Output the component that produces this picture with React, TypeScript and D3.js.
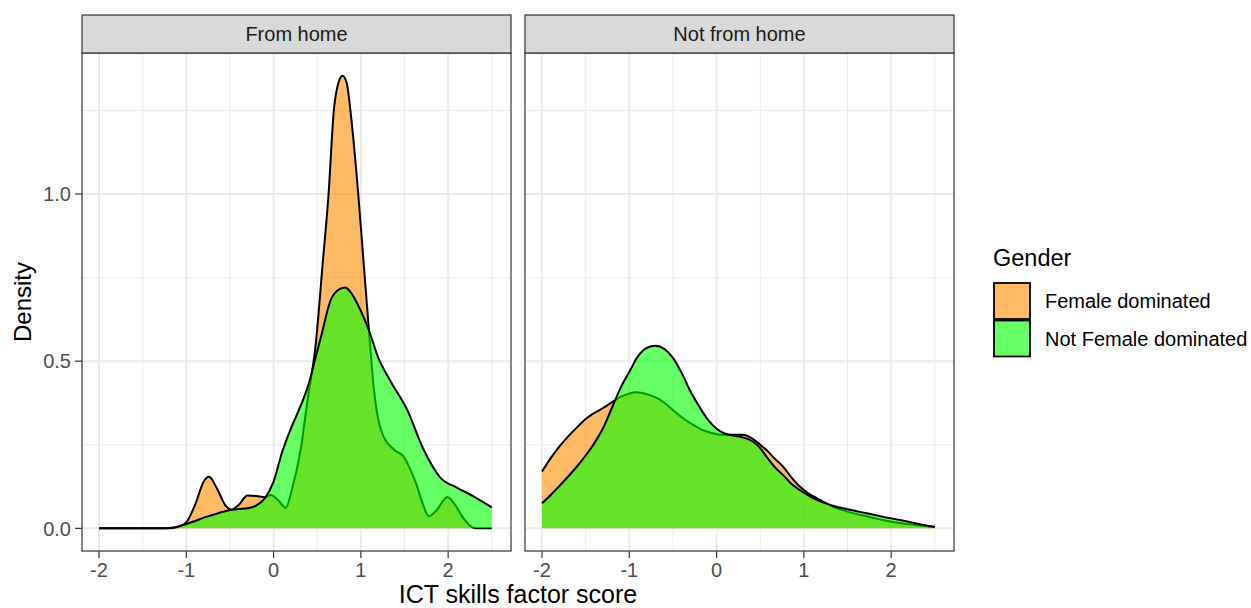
import React from 'react';
import * as d3 from 'd3';

// density estimates: [score, density]
const homeFemale: [number, number][] = [
  [-2, 0], [-1.5, 0], [-1.2, 0], [-1.1, 0.004], [-1.0, 0.018], [-0.9, 0.07], [-0.8, 0.14],
  [-0.74, 0.154], [-0.65, 0.12], [-0.55, 0.068], [-0.48, 0.056], [-0.4, 0.07], [-0.3, 0.098],
  [-0.2, 0.097], [-0.1, 0.093], [-0.03, 0.1], [0.05, 0.085], [0.14, 0.062], [0.21, 0.116],
  [0.31, 0.235], [0.39, 0.385], [0.48, 0.544], [0.565, 0.8], [0.63, 1.0], [0.69, 1.25],
  [0.74, 1.33], [0.79, 1.354], [0.84, 1.33], [0.88, 1.25], [0.97, 1.0], [1.03, 0.8],
  [1.09, 0.6], [1.15, 0.415], [1.23, 0.295], [1.38, 0.235], [1.49, 0.215], [1.56, 0.18],
  [1.63, 0.136], [1.7, 0.08], [1.78, 0.036], [1.87, 0.055], [1.99, 0.094], [2.08, 0.07],
  [2.16, 0.036], [2.29, 0.002], [2.35, 0], [2.5, 0],
];

const homeOther: [number, number][] = [
  [-2, 0], [-1.3, 0], [-1.2, 0.001], [-1.1, 0.005], [-1.0, 0.013], [-0.9, 0.022], [-0.8, 0.032],
  [-0.7, 0.04], [-0.6, 0.048], [-0.5, 0.055], [-0.4, 0.058], [-0.3, 0.06], [-0.2, 0.068],
  [-0.1, 0.09], [0, 0.14], [0.1, 0.23], [0.2, 0.3], [0.3, 0.36], [0.4, 0.43], [0.47, 0.5],
  [0.55, 0.58], [0.65, 0.68], [0.75, 0.715], [0.82, 0.72], [0.9, 0.7], [1.0, 0.65],
  [1.09, 0.594], [1.2, 0.51], [1.34, 0.44], [1.53, 0.355], [1.72, 0.235], [1.91, 0.152],
  [2.1, 0.122], [2.29, 0.096], [2.5, 0.063],
];

const awayFemale: [number, number][] = [
  [-2, 0.17], [-1.9, 0.21], [-1.8, 0.245], [-1.7, 0.275], [-1.6, 0.302], [-1.5, 0.327],
  [-1.4, 0.345], [-1.3, 0.36], [-1.2, 0.377], [-1.1, 0.393], [-1.0, 0.403], [-0.93, 0.407],
  [-0.85, 0.405], [-0.78, 0.4], [-0.65, 0.385], [-0.55, 0.365], [-0.45, 0.343], [-0.36, 0.325],
  [-0.25, 0.307], [-0.17, 0.295], [-0.05, 0.285], [0.05, 0.28], [0.15, 0.28], [0.3, 0.28],
  [0.4, 0.27], [0.5, 0.25], [0.57, 0.235], [0.66, 0.21], [0.76, 0.185], [0.85, 0.155],
  [0.95, 0.126], [1.05, 0.105], [1.15, 0.09], [1.34, 0.064], [1.5, 0.05], [1.72, 0.036],
  [1.9, 0.025], [2.1, 0.016], [2.3, 0.009], [2.5, 0.004],
];

const awayOther: [number, number][] = [
  [-2, 0.075], [-1.9, 0.1], [-1.8, 0.127], [-1.7, 0.155], [-1.6, 0.185], [-1.5, 0.218],
  [-1.4, 0.255], [-1.3, 0.3], [-1.2, 0.36], [-1.1, 0.42], [-1.0, 0.468], [-0.9, 0.515],
  [-0.8, 0.54], [-0.7, 0.546], [-0.6, 0.537], [-0.5, 0.51], [-0.4, 0.465], [-0.3, 0.41],
  [-0.2, 0.365], [-0.1, 0.325], [0, 0.298], [0.1, 0.283], [0.2, 0.277], [0.3, 0.272],
  [0.4, 0.262], [0.5, 0.24], [0.57, 0.215], [0.66, 0.185], [0.76, 0.16], [0.85, 0.135],
  [0.95, 0.115], [1.05, 0.099], [1.15, 0.085], [1.34, 0.067], [1.5, 0.057], [1.72, 0.045],
  [1.9, 0.035], [2.1, 0.025], [2.3, 0.014], [2.5, 0.004],
];

const panels = ['From home', 'Not from home'];
const groups = ['Female dominated', 'Not Female dominated'];
const groupColors = ['#ff8c00', '#00ff00'];
const xTicks = [-2, -1, 0, 1, 2];
const xMinor = [-1.5, -0.5, 0.5, 1.5, 2.5];
const yTicks = [0, 0.5, 1.0];
const yMinor = [0.25, 0.75, 1.25];

const width = 1251;
const height = 608;
const font = '"Liberation Sans", Arial, sans-serif';

export default function App() {
  const y = d3.scaleLinear().domain([-0.0677, 1.4217]).range([551, 53]);
  const panelX = [
    d3.scaleLinear().domain([-2.195, 2.72]).range([82, 511]),
    d3.scaleLinear().domain([-2.195, 2.72]).range([525, 954]),
  ];
  const series = [
    [homeFemale, homeOther],
    [awayFemale, awayOther],
  ];
  const top = 15;
  const stripBottom = 53;
  const bottom = 551;

  return (
    <svg width={width} height={height} style={{ position: 'absolute', left: 0, top: 0, background: '#fff' }}>
      {panels.map((name, p) => {
        const x = panelX[p];
        const [x0, x1] = x.range();
        const area = d3.area<[number, number]>()
          .x(d => x(d[0])).y0(y(0)).y1(d => y(d[1]))
          .curve(d3.curveMonotoneX);
        const line = d3.line<[number, number]>()
          .x(d => x(d[0])).y(d => y(d[1]))
          .curve(d3.curveMonotoneX);
        return (
          <g key={name}>
            {/* grid */}
            {yMinor.map(v => (
              <line key={'ym' + v} x1={x0} x2={x1} y1={y(v)} y2={y(v)} stroke="#ebebeb" strokeWidth={1} />
            ))}
            {xMinor.map(v => (
              <line key={'xm' + v} x1={x(v)} x2={x(v)} y1={stripBottom} y2={bottom} stroke="#ebebeb" strokeWidth={1} />
            ))}
            {yTicks.map(v => (
              <line key={'y' + v} x1={x0} x2={x1} y1={y(v)} y2={y(v)} stroke="#ebebeb" strokeWidth={2} />
            ))}
            {xTicks.map(v => (
              <line key={'x' + v} x1={x(v)} x2={x(v)} y1={stripBottom} y2={bottom} stroke="#ebebeb" strokeWidth={2} />
            ))}
            {/* densities */}
            {series[p].map((s, i) => (
              <g key={i}>
                <path d={area(s) ?? ''} fill={groupColors[i]} fillOpacity={0.6} />
                <path d={line(s) ?? ''} fill="none" stroke="#000" strokeWidth={2} />
              </g>
            ))}
            <rect x={x0} y={stripBottom} width={x1 - x0} height={bottom - stripBottom} fill="none" stroke="#333" strokeWidth={1.2} />
            {/* strip */}
            <rect x={x0} y={top} width={x1 - x0} height={stripBottom - top} fill="#d9d9d9" stroke="#333" strokeWidth={1.2} />
            <text x={(x0 + x1) / 2} y={(top + stripBottom) / 2} dy="0.36em" textAnchor="middle"
              fontFamily={font} fontSize={20} fill="#1a1a1a">{name}</text>
            {/* x axis */}
            {xTicks.map(v => (
              <g key={'xt' + v}>
                <line x1={x(v)} x2={x(v)} y1={bottom} y2={bottom + 7} stroke="#333" strokeWidth={1.2} />
                <text x={x(v)} y={577} textAnchor="middle" fontFamily={font} fontSize={20} fill="#4d4d4d">{v}</text>
              </g>
            ))}
          </g>
        );
      })}
      {/* y axis */}
      {yTicks.map(v => (
        <g key={'yt' + v}>
          <line x1={75} x2={82} y1={y(v)} y2={y(v)} stroke="#333" strokeWidth={1.2} />
          <text x={71} y={y(v)} dy="0.36em" textAnchor="end" fontFamily={font} fontSize={20} fill="#4d4d4d">{v.toFixed(1)}</text>
        </g>
      ))}
      <text transform={`translate(31,302) rotate(-90)`} textAnchor="middle" fontFamily={font} fontSize={24} fill="#000">Density</text>
      <text x={518} y={603} textAnchor="middle" fontFamily={font} fontSize={25} fill="#000">ICT skills factor score</text>
      {/* legend */}
      <text x={993} y={266} fontFamily={font} fontSize={23.5} fill="#000">Gender</text>
      {groups.map((g, i) => (
        <g key={g}>
          <rect x={994} y={283 + i * 37.5} width={36} height={36} fill="#fff" />
          <rect x={994} y={283 + i * 37.5} width={36} height={36} fill={groupColors[i]} fillOpacity={0.6} stroke="#000" strokeWidth={1.8} />
          <text x={1045} y={301 + i * 38} dy="0.36em" fontFamily={font} fontSize={20} fill="#000">{g}</text>
        </g>
      ))}
    </svg>
  );
}
